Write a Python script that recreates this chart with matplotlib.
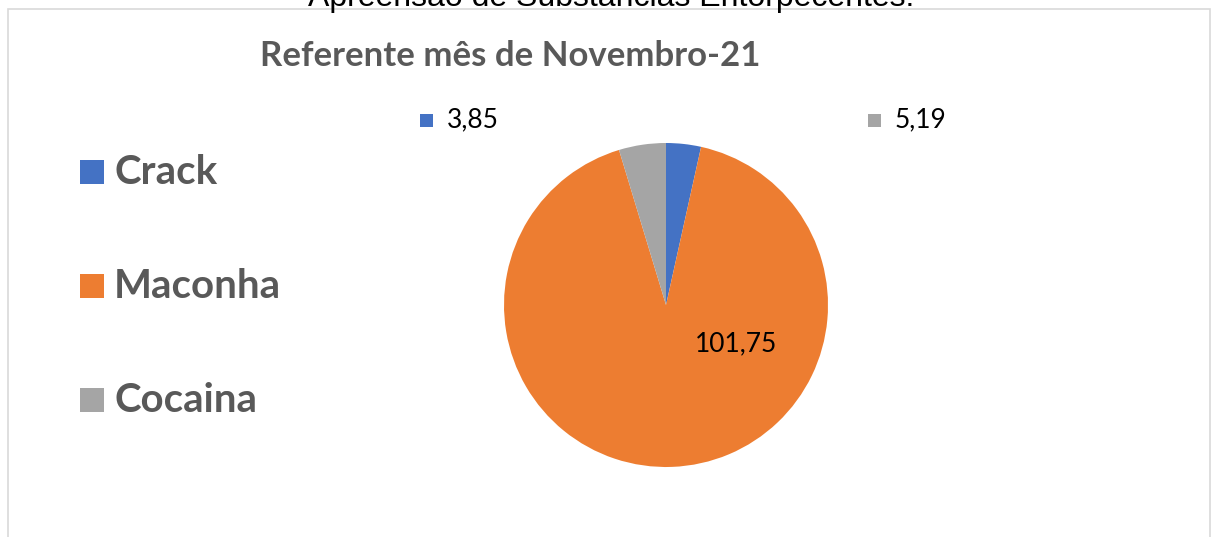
"""
Pie chart: apreensão de substâncias entorpecentes, Novembro-21.
"""

import matplotlib.pyplot as plt
from matplotlib.patches import Rectangle

# data
categories = ['Crack', 'Maconha', 'Cocaina']
values = [3.85, 101.75, 5.19]
labels = ['3,85', '101,75', '5,19']
colors = ['#4472C4', '#ED7D31', '#A5A5A5']

W, H = 1211, 537
fig = plt.figure(figsize=(W / 100, H / 100), dpi=100)
fig.patch.set_facecolor('white')

def fx(px):
    return px / W

def fy(py):
    return 1 - py / H

# chart border (top / left / right)
fig.add_artist(Rectangle((fx(8), fy(560)), fx(1210 - 8), (560 - 9) / H,
                         transform=fig.transFigure, fill=False,
                         edgecolor='#D9D9D9', linewidth=1.2))

# cropped heading at very top
fig.text(fx(611), fy(6), 'Apreensão de Substâncias Entorpecentes:',
         ha='center', va='baseline', fontsize=23, color='black',
         family='Liberation Sans')

# subtitle
fig.text(fx(510), fy(66), 'Referente mês de Novembro-21', ha='center',
         va='baseline', fontsize=25, fontweight='bold', color='#595959',
         family='Lato')

# pie
cx, cy, r = 666, 305, 162
ax = fig.add_axes([fx(cx - r), fy(cy + r), 2 * r / W, 2 * r / H])
wedges, _ = ax.pie(values, colors=colors, startangle=90, counterclock=False,
                   radius=1, wedgeprops=dict(linewidth=0))
ax.set_xlim(-1, 1)
ax.set_ylim(-1, 1)
ax.set_aspect('auto')
ax.axis('off')

# data labels
ax.text(0.43, -0.24, labels[1], ha='center', va='center', fontsize=19,
        color='black', family='Lato')
lab_pos = {0: (420, 120), 2: (868, 120)}
for i, (px, py) in lab_pos.items():
    fig.add_artist(Rectangle((fx(px), fy(py + 7)), fx(13), 13 / H,
                             transform=fig.transFigure, color=colors[i],
                             linewidth=0))
    fig.text(fx(px + 27), fy(py), labels[i], ha='left', va='center',
             fontsize=19, color='black', family='Lato')

# legend
leg_y = [172, 286, 400]
for name, col, py in zip(categories, colors, leg_y):
    fig.add_artist(Rectangle((fx(80), fy(py + 12)), fx(24), 24 / H,
                             transform=fig.transFigure, color=col,
                             linewidth=0))
    fig.text(fx(114), fy(py), name, ha='left', va='center', fontsize=29,
             fontweight='bold', color='#595959', family='Lato')

fig.savefig('out.png', dpi=100)
